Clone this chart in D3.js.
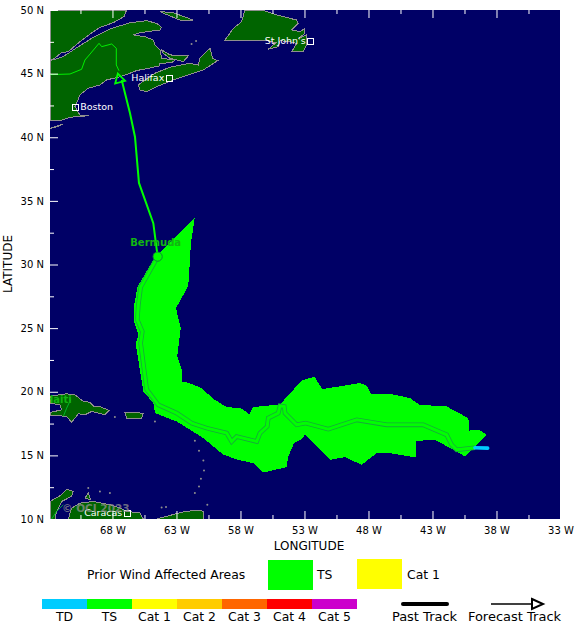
<!DOCTYPE html>
<html><head><meta charset="utf-8">
<script src="https://cdn.jsdelivr.net/npm/d3@7/dist/d3.min.js"></script>
<style>html,body{margin:0;padding:0;background:#fff}svg{display:block}text{font-family:"DejaVu Sans",sans-serif}</style>
</head><body><svg id="c" width="580" height="632"></svg>
<script>
// tick labels
const lonTicks=[68,63,58,53,48,43,38,33];
const lonMinor=[70.5,65.5,60.5,55.5,50.5,45.5,40.5,35.5];
const latTicks=[50,45,40,35,30,25,20,15,10];
const latMinor=[47.5,42.5,37.5,32.5,27.5,22.5,17.5,12.5];
// [deg W, deg N]
const swath=[[61.58,33.64],[61.87,31.67],[62.05,28.66],[62.13,28.22],[63.04,26.57],[62.67,25],[62.73,24.47],[62.94,22.77],[62.59,21.72],[62.55,20.76],[62.08,20.72],[61.03,20.28],[60.12,19.44],[59.08,18.79],[57.98,18.71],[57.31,18.24],[57,18.79],[54.91,19.01],[53.22,20.88],[52.18,21.2],[51.92,20.68],[51.58,20.21],[48.66,20.68],[48.14,20.47],[47.8,19.81],[46.32,19.84],[44.76,19.5],[43.98,18.97],[41.89,18.84],[40.2,17.93],[40.12,16.95],[39.34,17.01],[38.77,16.62],[39.81,15.57],[40.46,14.91],[41.37,15.44],[42.8,16.22],[44.29,16.14],[44.29,14.83],[46.32,15.18],[47.36,15.18],[48.53,14.26],[49.84,14.86],[51.01,14.65],[52.96,16.62],[53.22,16.28],[53.82,15.96],[54.27,14.91],[54.39,14.08],[56.22,13.65],[57,14.39],[58.17,14.65],[59.34,15.05],[60.91,16.36],[61.42,16.69],[62.98,17.66],[64.68,18.32],[64.81,19.11],[65.58,20.02],[66.19,23.76],[65.98,24.47],[66.32,25.52],[66.32,26.69],[66.06,28.22],[64.81,30.36],[64.29,30.94]];
const trackTD=[[38.69,15.57],[39.68,15.6]];
const trackTS=[[39.68,15.6],[41.11,15.44],[41.5,15.83],[41.89,16.62],[43.72,17.4],[46.58,17.4],[48.92,17.79],[51.14,17.06],[52.91,17.54],[53.61,17.4],[54.52,18.32],[54.58,18.84],[54.91,18.89],[55.05,18.32],[55.83,17.93],[55.91,17.27],[56.48,16.75],[56.73,16.09],[58.3,16.48],[58.69,16.09],[59.08,16.75],[60.64,17.14],[61.81,17.54],[62.98,18.32],[64.42,18.97],[65.33,20.19],[65.8,23.82],[65.67,24.73],[66.06,25.65],[65.98,26.83],[65.8,28.22],[64.68,30.23],[64.47,30.62]];
const trackNorth=[[64.47,30.62],[64.81,33.25],[65.93,36.41],[66.24,40.02],[66.63,41.89],[67.28,44.5]];
const trackInland=[[67.49,45.23],[67.7,45.68],[67.7,46.99],[68.06,47.33],[68.84,47.12],[69.05,47.38],[69.81,46.47],[70.15,46.07],[70.41,45.34],[71.32,44.97],[72.88,44.92]];
const otherTracks=[[[72.75,10],[72.36,10.6],[71.84,11.12]],[[71.84,18.06],[71.58,18.71],[71.27,19.37]]];
const bermudaPoint=[64.47,30.62];
const lastPoint=[67.46,44.55];
// land
const land=[
[[72.88,50],[66.89,50],[67.1,49.48],[67.94,49],[68.98,48.64],[69.76,48.11],[70.54,47.51],[71.45,46.73],[71.97,46.65],[72.62,46.13],[72.88,46.07]],
[[72.88,46.02],[71.97,46.28],[71.45,46.6],[70.54,47.2],[69.5,47.85],[68.2,48.51],[66.63,49],[65.33,49.16],[64.55,48.95],[64.16,48.64],[64.29,48.43],[65.85,48.22],[66.37,48.04],[65.46,47.9],[64.81,47.64],[64.68,47.25],[64.29,46.86],[64.16,46.2],[63.12,46.07],[63.38,45.86],[64.29,45.81],[64.34,45.6],[65.2,45.42],[66.11,45.24],[66.63,45.03],[67.41,44.76],[68.46,44.5],[68.98,44.11],[69.89,43.85],[70.54,43.33],[70.75,42.8],[70.93,42.41],[70.54,41.75],[69.81,41.7],[71.32,41.57],[72.1,41.31],[72.88,41.31]],
[[72.88,40.71],[71.84,41.05],[72.49,40.76]],
[[65.98,44.11],[65.46,44.5],[64.68,45.03],[63.51,45.5],[61.95,45.81],[61.3,45.68],[61.17,46.2],[60.38,46.99],[60.18,46.2],[59.78,46.02],[60.9,45.29],[63.25,44.5],[64.55,43.98],[65.33,43.59],[65.85,43.72]],
[[64.16,46.86],[63.51,46.47],[62.08,46.39],[62.47,45.94],[63.51,46.2],[64.03,46.6]],
[[64.29,49.87],[63.25,49.79],[61.69,49.21],[62.73,49.21],[63.51,49.53]],
[[57.65,50],[56.35,50],[55.17,49.61],[53.61,49.21],[53.48,48.95],[54,48.43],[53.35,48.3],[52.96,48.56],[52.96,48.17],[53.48,47.77],[52.83,48.04],[52.83,47.25],[53.09,46.73],[54,46.73],[53.61,47.38],[54.13,47.51],[54.91,47.59],[55.04,47.12],[55.83,46.91],[55.23,47.43],[56.22,47.64],[57.78,47.64],[59.21,47.64],[58.56,48.56],[57.91,49.08]],
[[72.88,19.63],[72.1,19.78],[71.58,19.84],[70.93,19.76],[70.28,19.24],[69.76,19.18],[69.45,18.84],[68.98,18.84],[68.27,18.53],[68.59,18.19],[69.63,18.45],[70.15,18.19],[70.67,18.27],[71.19,17.59],[71.58,18.06],[72.1,18.11],[72.88,18.11],[72.88,18.37],[71.97,18.58],[72.1,18.97],[72.88,19.1]],
[[67.02,18.37],[65.59,18.32],[65.72,17.93],[66.89,17.93]],
[[72.88,11.38],[71.97,11.91],[71.58,12.35],[71.06,12.17],[71.19,11.78],[71.97,11.38],[72.36,10.6],[72.49,10],[72.88,10]],
[[71.45,10],[71.19,10.86],[70.54,11.25],[69.5,11.38],[68.2,11.12],[67.41,10.86],[66.89,10.6],[65.85,10.47],[65.59,10]],
[[70.15,11.65],[69.89,12.04],[69.71,11.52]],
[[64.55,10],[62.99,10.42],[62.34,10.6],[61.3,10.68],[60.9,10.6],[60.9,10],[62.73,10]]
];
const islets=[[64.68,17.67],[67.81,18.01],[61.56,16.15],[61.24,15.36],[60.9,14.6],[60.85,13.82],[61.09,13.17],[61.24,12.56],[61.56,12.04],[60.59,11.12],[69.89,12.43],[68.98,12.17],[68.2,12.04],[64.16,10.91],[63.82,10.94],[61.82,47.33],[61.47,47.56]];
const cityNames=["Boston","Halifax","St John's","Caracas"];
const cityCoords=[[70.91,42.36],[63.56,44.64],[52.52,47.54],[66.84,10.47]];
const citySides=[1,-1,-1,-1];
const categories=["TD","TS","Cat 1","Cat 2","Cat 3","Cat 4","Cat 5"];
const catColors=["#00ccff","#00ff00","#ffff00","#ffcc00","#ff6600","#ff0000","#cc00cc"];

const svg=d3.select("#c");
const x=d3.scaleLinear().domain([72.88,33]).range([50,560.5]);
const y=d3.scaleLinear().domain([50,10]).range([10,519]);
const P=p=>[x(p[0]),y(p[1])];
const line=d3.line().x(d=>x(d[0])).y(d=>y(d[1]));
svg.append("defs").append("clipPath").attr("id","pl").append("rect").attr("x",50).attr("y",10).attr("width",510).attr("height",509);
svg.append("rect").attr("x",50).attr("y",10).attr("width",510).attr("height",509).attr("fill","#000066");
const g=svg.append("g").attr("clip-path","url(#pl)");
g.selectAll("path.land").data(land).join("path").attr("class","land")
 .attr("d",d=>line(d)+"Z").attr("fill","#006400").attr("stroke","#8f8f8f").attr("stroke-width",1).attr("shape-rendering","crispEdges");
g.selectAll("circle.is").data(islets).join("circle").attr("class","is").attr("cx",d=>x(d[0])).attr("cy",d=>y(d[1])).attr("r",1).attr("fill","#8f8f8f");
g.selectAll("path.other").data(otherTracks).join("path").attr("class","other").attr("d",line).attr("fill","none").attr("stroke","#00cc33").attr("stroke-width",.8);
g.append("path").attr("d",line(swath)+"Z").attr("fill","#00ff00").attr("shape-rendering","crispEdges");
g.append("path").attr("d",line(trackTS)).attr("fill","none").attr("stroke","#16a83c").attr("stroke-width",4.6);
g.append("path").attr("d",line(trackTS)).attr("fill","none").attr("stroke","#00ff00").attr("stroke-width",3);
g.append("path").attr("d",line(trackTD)).attr("fill","none").attr("stroke","#00ccff").attr("stroke-width",3.6).attr("stroke-linecap","round");
g.append("path").attr("d",line(trackNorth)).attr("fill","none").attr("stroke","#00ff00").attr("stroke-width",2);
g.append("path").attr("d",line(trackInland)).attr("fill","none").attr("stroke","#00ff00").attr("stroke-width",.9);
g.append("circle").attr("cx",x(bermudaPoint[0])).attr("cy",y(bermudaPoint[1])).attr("r",4.6).attr("fill","#00ff00").attr("stroke","#0b8a33").attr("stroke-width",1);
g.append("path").attr("d",d3.symbol(d3.symbolTriangle,46)()).attr("transform",`translate(${x(lastPoint[0])},${y(lastPoint[1])}) rotate(-15)`).attr("fill","none").attr("stroke","#00ff00").attr("stroke-width",1.8);

// city labels
cityNames.forEach((n,i)=>{const [cx,cy]=P(cityCoords[i]);
 g.append("rect").attr("x",cx-3).attr("y",cy-3).attr("width",6).attr("height",6).attr("fill","none").attr("stroke","#fff").attr("stroke-width",1).attr("shape-rendering","crispEdges");
 g.append("text").attr("x",cx+citySides[i]*5).attr("y",cy+3).attr("text-anchor",citySides[i]>0?"start":"end").attr("font-size",9.5).attr("fill","#fff").text(n);
});
g.append("text").attr("x",x(bermudaPoint[0])-2).attr("y",y(bermudaPoint[1])-11).attr("text-anchor","middle").attr("font-size",10).attr("font-weight","bold").attr("fill","#12b512").text("Bermuda");
g.append("text").attr("x",45).attr("y",403).attr("font-size",10).attr("font-weight","bold").attr("fill","#12b512").text("Haiti");
g.append("text").attr("x",62).attr("y",512).attr("font-size",10.5).attr("font-weight","bold").attr("fill","#8f8f8f").attr("fill-opacity",.75).text("© OCI 2023");

// axes
function style(a,label){a.select(".domain").remove();a.selectAll("line").attr("stroke","#fff").attr("stroke-width",1);a.selectAll("text").attr("fill",label?"#000":"none").attr("font-size",10).attr("font-family","DejaVu Sans, sans-serif");}
const fx=d=>d+" W",fy=d=>d+" N";
style(svg.append("g").attr("transform","translate(0,519)").call(d3.axisBottom(x).tickValues(lonTicks).tickFormat(fx).tickSizeInner(-8).tickSizeOuter(0).tickPadding(8)),true);
style(svg.append("g").attr("transform","translate(0,519)").call(d3.axisBottom(x).tickValues(lonMinor).tickFormat("").tickSizeInner(-4).tickSizeOuter(0)),false);
style(svg.append("g").attr("transform","translate(0,10)").call(d3.axisTop(x).tickValues(lonTicks).tickFormat("").tickSizeInner(-8).tickSizeOuter(0)),false);
style(svg.append("g").attr("transform","translate(0,10)").call(d3.axisTop(x).tickValues(lonMinor).tickFormat("").tickSizeInner(-4).tickSizeOuter(0)),false);
style(svg.append("g").attr("transform","translate(50,0)").call(d3.axisLeft(y).tickValues(latTicks).tickFormat(fy).tickSizeInner(-8).tickSizeOuter(0).tickPadding(6)),true);
style(svg.append("g").attr("transform","translate(50,0)").call(d3.axisLeft(y).tickValues(latMinor).tickFormat("").tickSizeInner(-4).tickSizeOuter(0)),false);
svg.append("text").attr("x",309).attr("y",550).attr("text-anchor","middle").attr("font-size",12).text("LONGITUDE");
svg.append("text").attr("transform","translate(12,264) rotate(-90)").attr("text-anchor","middle").attr("font-size",12).text("LATITUDE");

// legend
svg.append("text").attr("x",87).attr("y",579).attr("font-size",12.4).text("Prior Wind Affected Areas");
svg.append("rect").attr("x",268).attr("y",560).attr("width",45).attr("height",30).attr("fill","#00ff00");
svg.append("text").attr("x",317).attr("y",579).attr("font-size",12.4).text("TS");
svg.append("rect").attr("x",357).attr("y",559).attr("width",45).attr("height",30).attr("fill","#ffff00");
svg.append("text").attr("x",407).attr("y",579).attr("font-size",12.4).text("Cat 1");
const band=d3.scaleBand().domain(categories).range([42,357]);
svg.selectAll("rect.cat").data(categories).join("rect").attr("class","cat").attr("x",d=>band(d)).attr("y",599).attr("width",band.bandwidth()).attr("height",10).attr("fill",(d,i)=>catColors[i]);
svg.selectAll("text.cat").data(categories).join("text").attr("class","cat").attr("x",d=>band(d)+band.bandwidth()/2).attr("y",621).attr("text-anchor","middle").attr("font-size",12.4).text(d=>d);
svg.append("line").attr("x1",403).attr("x2",447).attr("y1",604).attr("y2",604).attr("stroke","#000").attr("stroke-width",4).attr("stroke-linecap","round");
svg.append("text").attr("x",424.5).attr("y",621).attr("text-anchor","middle").attr("font-size",13).text("Past Track");
svg.append("line").attr("x1",491).attr("x2",532).attr("y1",604).attr("y2",604).attr("stroke","#000").attr("stroke-width",1.5);
svg.append("path").attr("d",d3.line()([[532,599],[543,604],[532,609]])+"Z").attr("fill","#fff").attr("stroke","#000").attr("stroke-width",2);
svg.append("text").attr("x",514.5).attr("y",621).attr("text-anchor","middle").attr("font-size",13).text("Forecast Track");
</script></body></html>
